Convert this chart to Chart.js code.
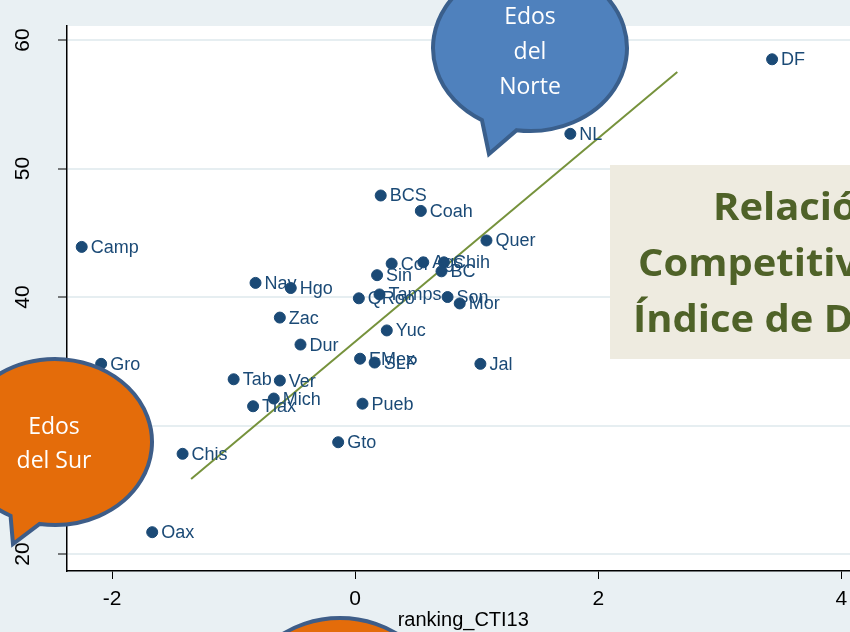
<!DOCTYPE html>
<html>
<head>
<meta charset="utf-8">
<script src="https://cdn.jsdelivr.net/npm/chart.js@4.4.1/dist/chart.umd.min.js"></script>
<style>
  html, body { margin: 0; padding: 0; overflow: hidden; background: #e9f0f3; }
  #wrap { width: 866px; height: 632px; }
</style>
</head>
<body>
<div id="wrap"><canvas id="chartCTI" width="866" height="632"></canvas></div>
<script>
/* =========================================================
   DATA
========================================================= */
const stateNames = ["DF", "NL", "BCS", "Coah", "Quer", "Camp", "Col", "Ags", "Chih", "BC",
    "Sin", "Nay", "Hgo", "QRoo", "Tamps", "Son", "Mor", "Zac", "Yuc", "Dur",
    "EMex", "SLP", "Jal", "Gro", "Tab", "Ver", "Mich", "Tlax", "Pueb", "Gto",
    "Chis", "Oax"];
const stateX = [3.43, 1.77, 0.21, 0.54, 1.08, -2.25, 0.30, 0.56, 0.73, 0.71,
    0.18, -0.82, -0.53, 0.03, 0.20, 0.76, 0.86, -0.62, 0.26, -0.45,
    0.04, 0.16, 1.03, -2.09, -1.00, -0.62, -0.67, -0.84, 0.06, -0.14,
    -1.42, -1.67];
const stateY = [58.5, 52.7, 47.9, 46.7, 44.4, 43.9, 42.6, 42.7, 42.7, 42.0,
    41.7, 41.1, 40.7, 39.9, 40.2, 40.0, 39.5, 38.4, 37.4, 36.3,
    35.2, 34.9, 34.8, 34.8, 33.6, 33.5, 32.1, 31.5, 31.7, 28.7,
    27.8, 21.7];

// recta de ajuste
const fitX = [-1.35, 2.65];
const fitY = [25.84, 57.51];

const xTicks = [-2, 0, 2, 4];
const yTicks = [20, 30, 40, 50, 60];

const bubbleNorte = ["Edos", "del", "Norte"];
const bubbleSur = ["Edos", "del Sur"];
const boxLines = ["Relación", "Competitividad", "Índice de Desarrollo"];

const NAVY = "#1b4a76";


/* =========================================================
   PLUGINS
========================================================= */
const bgPlugin = {
    id: "bg",
    beforeDraw(chart) {
        const { ctx, chartArea: a } = chart;
        ctx.save();
        ctx.fillStyle = "#e9f0f3";
        ctx.fillRect(0, 0, chart.width, chart.height);
        ctx.fillStyle = "#ffffff";
        ctx.fillRect(a.left, a.top, a.right - a.left, a.bottom - a.top);
        ctx.restore();
    }
};

const labelPlugin = {
    id: "pointLabels",
    afterDatasetsDraw(chart) {
        const { ctx } = chart;
        const meta = chart.getDatasetMeta(0);
        ctx.save();
        ctx.font = "18px 'Liberation Sans', Arial, sans-serif";
        ctx.fillStyle = NAVY;
        ctx.textAlign = "left";
        ctx.textBaseline = "middle";
        meta.data.forEach((pt, i) => {
            ctx.fillText(stateNames[i], pt.x + 9, pt.y + 1);
        });
        ctx.restore();

        // etiquetas del eje y (giradas)
        const ys = chart.scales.y;
        ctx.save();
        ctx.font = "21px 'Liberation Sans', Arial, sans-serif";
        ctx.fillStyle = "#000";
        ctx.textAlign = "center";
        ctx.textBaseline = "middle";
        yTicks.forEach(v => {
            ctx.save();
            ctx.translate(23, ys.getPixelForValue(v));
            ctx.rotate(-Math.PI / 2);
            ctx.fillText(String(v), 0, 0);
            ctx.restore();
        });
        ctx.restore();
    }
};

function drawBubble(ctx, cx, cy, rx, ry, tail, fill, stroke) {
    ctx.save();
    ctx.beginPath();
    if (tail) {
        const t1 = Math.atan2((tail[0][1] - cy) / ry, (tail[0][0] - cx) / rx);
        const t2 = Math.atan2((tail[2][1] - cy) / ry, (tail[2][0] - cx) / rx);
        ctx.ellipse(cx, cy, rx, ry, 0, t1, t2 + Math.PI * 2);
        ctx.lineTo(tail[1][0], tail[1][1]);
        ctx.closePath();
    } else {
        ctx.ellipse(cx, cy, rx, ry, 0, 0, Math.PI * 2);
    }
    ctx.fillStyle = fill;
    ctx.fill();
    ctx.lineWidth = 4;
    ctx.strokeStyle = stroke;
    ctx.stroke();
    ctx.restore();
}

const decorPlugin = {
    id: "decor",
    afterDraw(chart) {
        const { ctx } = chart;

        // caja de titulo
        ctx.save();
        ctx.fillStyle = "#eeebe0";
        ctx.fillRect(610, 165, 270, 194);
        ctx.font = "bold 37px 'Open Sans', 'Noto Sans', sans-serif";
        ctx.fillStyle = "#4f6228";
        ctx.textAlign = "left";
        ctx.textBaseline = "alphabetic";
        const rows = [[713, 220], [638, 276], [633, 332]];
        boxLines.forEach((t, i) => {
            ctx.save();
            ctx.translate(rows[i][0], rows[i][1]);
            ctx.scale(1.08, 1);
            ctx.fillText(t, 0, 0);
            ctx.restore();
        });
        ctx.restore();

        // globos
        drawBubble(ctx, 530, 48, 97, 83, [[482, 120], [489, 154], [517, 128]], "#4f81bd", "#3a5f8c");
        drawBubble(ctx, 55, 442, 97, 83, [[8, 520], [13, 544], [40, 522]], "#e46c0a", "#3e5d88");
        drawBubble(ctx, 340, 701, 97, 83, null, "#e46c0a", "#3e5d88");

        ctx.save();
        ctx.fillStyle = "#ffffff";
        ctx.font = "23px 'Open Sans', 'Noto Sans', sans-serif";
        ctx.textAlign = "center";
        ctx.textBaseline = "middle";
        bubbleNorte.forEach((t, i) => ctx.fillText(t, 530, 17 + i * 35));
        bubbleSur.forEach((t, i) => ctx.fillText(t, 54, 427 + i * 34));
        ctx.restore();
    }
};


/* =========================================================
   CHART.JS — DISPERSION
========================================================= */
const canvas = document.getElementById("chartCTI");

new Chart(canvas, {
    type: "scatter",
    data: {
        datasets: [{
            label: "Estados",
            data: stateX.map((x, i) => ({ x: x, y: stateY[i] })),
            backgroundColor: NAVY,
            borderColor: NAVY,
            pointRadius: 5.5,
            pointHoverRadius: 5.5
        }, {
            label: "Ajuste",
            data: fitX.map((x, i) => ({ x: x, y: fitY[i] })),
            showLine: true,
            borderColor: "#76923c",
            borderWidth: 2,
            pointRadius: 0
        }]
    },
    options: {
        responsive: false,
        animation: false,
        layout: { padding: { top: 26, right: 0, left: 0, bottom: 0 } },
        plugins: {
            legend: { display: false },
            tooltip: { enabled: false }
        },
        scales: {
            x: {
                type: "linear",
                min: -2.371,
                max: 4.149,
                afterBuildTicks: s => { s.ticks = xTicks.map(v => ({ value: v })); },
                afterFit: s => { s.height = 61; },
                border: { color: "#000", width: 1.5 },
                grid: { drawOnChartArea: false, tickColor: "#000", tickLength: 8, tickWidth: 1 },
                ticks: {
                    color: "#000",
                    padding: 8,
                    font: { family: "'Liberation Sans', Arial, sans-serif", size: 21 }
                },
                title: {
                    display: true,
                    text: "ranking_CTI13",
                    color: "#000",
                    padding: { top: 0, bottom: 0 },
                    font: { family: "'Liberation Sans', Arial, sans-serif", size: 20 }
                }
            },
            y: {
                type: "linear",
                min: 18.68,
                max: 61.09,
                afterBuildTicks: s => { s.ticks = yTicks.map(v => ({ value: v })); },
                afterFit: s => { s.width = 67; },
                border: { color: "#000", width: 1.5 },
                grid: { color: "#e6eef1", lineWidth: 2, tickColor: "#000", tickLength: 9, tickWidth: 1 },
                ticks: { display: false }
            }
        }
    },
    plugins: [bgPlugin, labelPlugin, decorPlugin]
});
</script>
</body>
</html>
